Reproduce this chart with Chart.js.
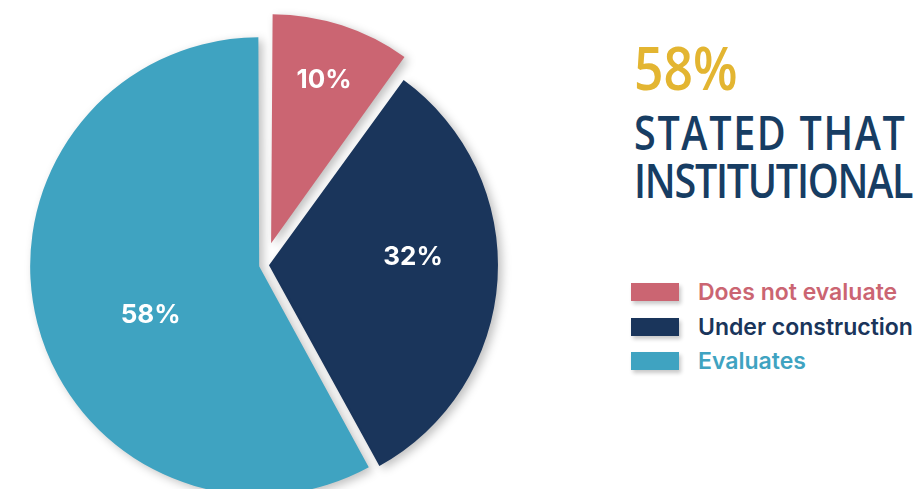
<!DOCTYPE html>
<html>
<head>
<meta charset="utf-8">
<script src="https://cdn.jsdelivr.net/npm/chart.js@4/dist/chart.umd.min.js"></script>
<style>
  html, body { margin: 0; padding: 0; background: #fff; overflow: hidden; }
  body { width: 921px; height: 489px; position: relative; }
  #pieBox { position: absolute; left: 0; top: 0; width: 528px; height: 489px; }
  .headline { position: absolute; left: 634px; white-space: nowrap; font-family: 'Open Sans', sans-serif; font-weight: 600; transform-origin: 0 0; }
  #bigPct { top: 34px; font-size: 60px; line-height: 66px; color: #e3b531; transform: scaleX(0.86); }
  #subLine { top: 108px; font-size: 47px; line-height: 48px; color: #173d63; transform: scaleX(0.84); }
  #subLine .l1 { letter-spacing: 2px; }
  #subLine .l2 { letter-spacing: -1.5px; }
  #legend { position: absolute; left: 631px; top: 275px; font-family: Inter, sans-serif; font-weight: 600; font-size: 23px; }
  .item { display: flex; align-items: center; height: 34.5px; }
  .swatch { width: 48px; height: 18px; margin-right: 19px; box-shadow: 2px 3px 4px rgba(0,0,0,0.22); }
</style>
</head>
<body>
<div id="pieBox"><canvas id="pie"></canvas></div>
<div class="headline" id="bigPct">58%</div>
<div class="headline" id="subLine"><span class="l1">STATED THAT</span><br><span class="l2">INSTITUTIONAL</span></div>
<div id="legend"></div>
<script>
const categories = ['Does not evaluate', 'Under construction', 'Evaluates'];
const shares = [10, 32, 58];
const sliceColors = ['#cb6572', '#1a355b', '#3fa3c1'];

// how far each slice is pulled out (chart.js moves a pie slice by offset / 4)
const sliceOffsets = [92, 20, 20];
const pieRadius = 229;
// where the value text sits: fraction of radius, plus a small angle nudge in degrees
const labelRadius = [0.75, 0.63, 0.52];
const labelNudge = [0, -7, -10];

// keep every slice the same size after chart.js grows pulled-out slices
const evenRadius = {
  id: 'evenRadius',
  afterDatasetsUpdate(chart) {
    chart.getDatasetMeta(0).data.forEach((arc, i) => {
      const circ = arc.endAngle - arc.startAngle;
      const fix = 1 - Math.sin(Math.min(Math.PI, circ));
      arc.outerRadius = pieRadius - (sliceOffsets[i] / 4) * fix;
    });
  }
};

// soft drop shadow under the slices, then the white value text
const shadowAndText = {
  id: 'shadowAndText',
  beforeDatasetsDraw(chart) {
    const ctx = chart.ctx;
    ctx.save();
    ctx.shadowColor = 'rgba(0,0,0,0.25)';
    ctx.shadowBlur = 10;
    ctx.shadowOffsetX = 4;
    ctx.shadowOffsetY = 3;
  },
  afterDatasetsDraw(chart) {
    const ctx = chart.ctx;
    ctx.restore();
    ctx.save();
    ctx.fillStyle = '#fff';
    ctx.font = '700 26px Inter, sans-serif';
    ctx.textAlign = 'center';
    ctx.textBaseline = 'middle';
    chart.getDatasetMeta(0).data.forEach((arc, i) => {
      const mid = (arc.startAngle + arc.endAngle) / 2;
      const shift = sliceOffsets[i] / 4;
      const cx = arc.x + Math.cos(mid) * shift;
      const cy = arc.y + Math.sin(mid) * shift;
      const a = mid + labelNudge[i] * Math.PI / 180;
      const r = pieRadius * labelRadius[i];
      ctx.fillText(shares[i] + '%', cx + Math.cos(a) * r, cy + Math.sin(a) * r);
    });
    ctx.restore();
  }
};

new Chart(document.getElementById('pie'), {
  type: 'pie',
  data: {
    labels: categories,
    datasets: [{
      data: shares,
      backgroundColor: sliceColors,
      borderWidth: 0,
      offset: sliceOffsets,
      clip: false
    }]
  },
  options: {
    responsive: true,
    maintainAspectRatio: false,
    animation: false,
    events: [],
    radius: pieRadius,
    layout: { padding: { top: 41 } },
    plugins: {
      legend: { display: false },
      tooltip: { enabled: false }
    }
  },
  plugins: [evenRadius, shadowAndText]
});

// legend on the right, built from the same categories and colours
const legend = document.getElementById('legend');
categories.forEach((name, i) => {
  const row = document.createElement('div');
  row.className = 'item';
  row.style.color = sliceColors[i];
  const sw = document.createElement('span');
  sw.className = 'swatch';
  sw.style.background = sliceColors[i];
  row.appendChild(sw);
  row.appendChild(document.createTextNode(name));
  legend.appendChild(row);
});
</script>
</body>
</html>
